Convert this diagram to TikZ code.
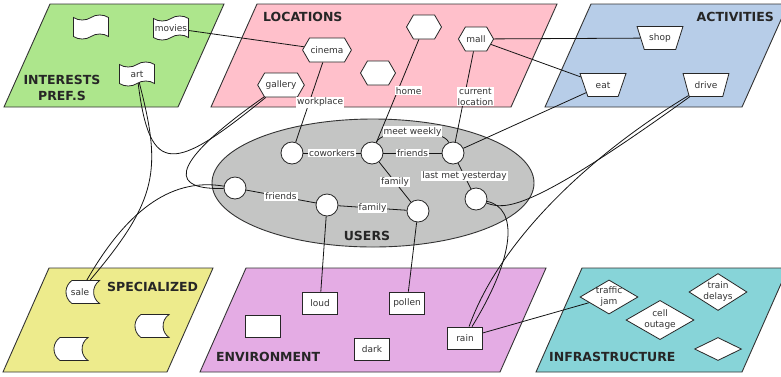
\documentclass[tikz,border=0pt]{standalone}
\usepackage{fontspec}
\setmainfont{DejaVu Sans}
\usetikzlibrary{positioning,shapes.geometric,shapes.symbols,shapes.misc}
\definecolor{cint}{RGB}{173,230,140}
\definecolor{cloc}{RGB}{255,192,203}
\definecolor{cact}{RGB}{183,205,232}
\definecolor{cspec}{RGB}{237,235,140}
\definecolor{cenv}{RGB}{228,172,228}
\definecolor{cinf}{RGB}{135,212,216}
\definecolor{cuser}{RGB}{196,197,196}
\definecolor{cedge}{RGB}{20,20,20}

\begin{document}
\begin{tikzpicture}[x=1pt, y=-1pt,
  plane/.style={draw=black!80, line width=0.9pt},
  ttl/.style={font=\fontsize{12.5}{16.5}\selectfont\bfseries, text=black!85, inner sep=0pt, align=center},
  base/.style={draw=black!85, fill=white, line width=0.8pt, font=\fontsize{9}{11}\selectfont,
               inner sep=1pt, text=black!80},
  interest/.style={base, tape, minimum width=35pt, minimum height=24pt},
  place/.style={base, signal, signal to=east and west, signal pointer angle=120,
                minimum width=35pt, minimum height=24pt},
  activity/.style={base, trapezium, shape border rotate=180, trapezium left angle=63,
                   trapezium right angle=63, trapezium stretches=true,
                   minimum width=46pt, minimum height=23pt},
  special/.style={base, rounded rectangle, rounded rectangle right arc=concave,
                  rounded rectangle arc length=110, minimum width=35pt, minimum height=23pt},
  envbox/.style={base, rectangle, minimum width=35pt, minimum height=22pt},
  infra/.style={base, diamond, align=center, inner sep=-3pt, minimum width=58pt, minimum height=34pt},
  user/.style={base, circle, minimum size=22pt},
  lbl/.style={fill=white, inner sep=1pt, font=\fontsize{9}{11}\selectfont, text=black!80, align=center},
  link/.style={draw=cedge, line width=0.8pt}]
\useasboundingbox (0,0) rectangle (781,376);

% planes
\draw[plane, fill=cint]  (4,107)   -- (178,107) -- (224,4)   -- (50,4)   -- cycle;
\draw[plane, fill=cloc]  (211,107) -- (511,107) -- (557,4)   -- (257,4)  -- cycle;
\draw[plane, fill=cact]  (545,107) -- (742,107) -- (788,4)   -- (591,4)  -- cycle;
\draw[plane, fill=cspec] (3,372)   -- (167,372) -- (213,268) -- (49,268) -- cycle;
\draw[plane, fill=cenv]  (200,372) -- (500,372) -- (546,268) -- (246,268) -- cycle;
\draw[plane, fill=cinf]  (536,372) -- (742,372) -- (788,268) -- (582,268) -- cycle;
\draw[plane, fill=cuser] (373,183) ellipse [x radius=161, y radius=64];

% titles
\node[ttl] (tInt) at (62,88) {INTERESTS\\PREF.S};
\node[ttl, anchor=west] (tLoc) at (263,17) {LOCATIONS};
\node[ttl, anchor=east] (tAct) at (774,17) {ACTIVITIES};
\node[ttl, anchor=west] (tSpec) at (107,287) {SPECIALIZED};
\node[ttl, anchor=west] (tEnv) at (216,357) {ENVIRONMENT};
\node[ttl, anchor=west] (tInf) at (549,357) {INFRASTRUCTURE};
\node[ttl] (tUser) at (367,236) {USERS};

% interests
\node[interest] (intA) at (91,27) {};
\node[interest] (movies) at (171,28) {movies};
\node[interest] (art) at (137,74) {art};

% locations
\node[place, minimum width=46pt] (cinema) at (327,50) {cinema};
\node[place] (locA) at (424,27) {};
\node[place] (mall) at (476,39) {mall};
\node[place] (locB) at (378,73) {};
\node[place, minimum width=45pt] (gallery) at (281,85) {gallery};

% activities
\node[activity] (shop) at (660,38) {shop};
\node[activity] (eat) at (603,85) {eat};
\node[activity] (drive) at (706,85) {drive};

% specialized
\node[special] (sale) at (80,292) {sale};
\node[special] (specA) at (149,326) {};
\node[special] (specB) at (68,349) {};

% environment
\node[envbox] (loud) at (320,303) {loud};
\node[envbox] (pollen) at (407,303) {pollen};
\node[envbox] (envA) at (263,326) {};
\node[envbox] (dark) at (372,349) {dark};
\node[envbox] (rain) at (465,338) {rain};

% infrastructure
\node[infra] (jam) at (609,297) {traffic\\jam};
\node[infra] (delays) at (718,292) {train\\delays};
\node[infra, minimum width=68pt] (outage) at (660,320) {cell\\outage};
\node[infra, minimum width=47pt, minimum height=23pt] (infA) at (718,349) {};

% users
\node[user] (uCw) at (292,153) {};
\node[user] (uMid) at (372,153) {};
\node[user] (uFr) at (453,153) {};
\node[user] (uLy) at (476,199) {};
\node[user] (uLeft) at (235,188) {};
\node[user] (uFa) at (327,205) {};
\node[user] (uFb) at (418,211) {};

% links between users
\draw[link] (uCw) -- node[lbl] {coworkers} (uMid);
\draw[link] (uMid) -- node[lbl] {friends} (uFr);
\draw[link] (uMid) .. controls +(10,-25) and +(-10,-25) .. node[lbl] {meet weekly} (uFr);
\draw[link] (uMid) -- node[lbl] {family} (uFb);
\draw[link] (uFr) -- node[lbl] {last met yesterday} (uLy);
\draw[link] (uLeft) -- node[lbl] {friends} (uFa);
\draw[link] (uFa) -- node[lbl] {family} (uFb);

% links to locations
\draw[link] (cinema) -- node[lbl, xshift=11pt] {workplace} (uCw);
\draw[link] (locA) -- node[lbl, xshift=11pt] {home} (uMid);
\draw[link] (mall) -- node[lbl, xshift=11pt] {current\\location} (uFr);

% other links
\draw[link] (movies) -- (cinema);
\draw[link] (mall) -- (shop);
\draw[link] (mall) -- (eat);
\draw[link] (eat) -- (uFr);
\draw[link] (uFa) -- (loud);
\draw[link] (uFb) -- (pollen);
\draw[link] (rain) -- (jam);
\draw[link] (art) .. controls (150,178) and (174,172) .. (gallery);
\draw[link] (art) .. controls (162,170) and (158,200) .. (sale);
\draw[link] (gallery) .. controls (160,170) and (175,190) .. (uLeft);
\draw[link] (uLeft) .. controls (175,178) and (130,205) .. (sale);
\draw[link] (uLy) .. controls (505,210) and (530,212) .. (drive);
\draw[link] (uLy) .. controls (518,208) and (516,255) .. (rain);
\draw[link] (drive) .. controls (590,155) and (500,240) .. (rain);
\end{tikzpicture}
\end{document}
